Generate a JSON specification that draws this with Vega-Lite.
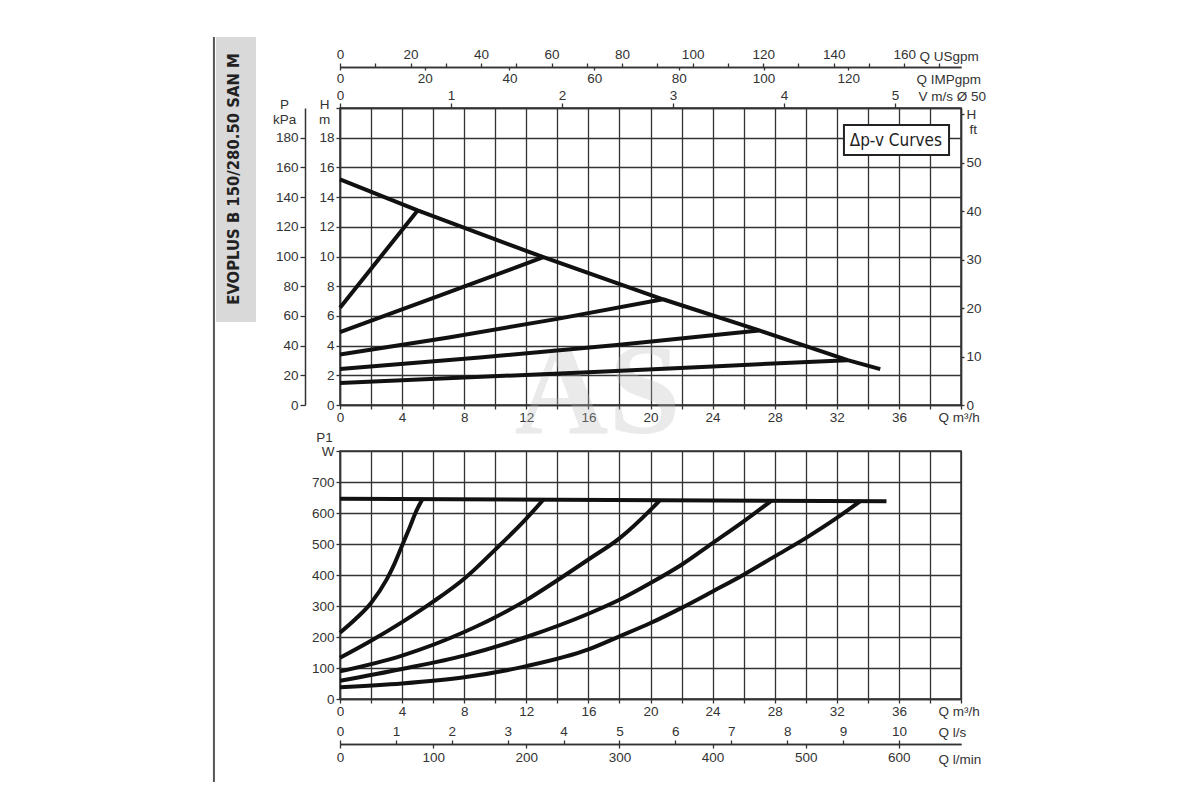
{
  "$schema": "https://vega.github.io/schema/vega-lite/v6.json",
  "padding": {"left": 212, "top": 35, "right": 5, "bottom": 5},
  "background": "white",
  "bounds": "flush",
  "spacing": 46,
  "config": {
    "view": {"stroke": "#333", "strokeWidth": 1.5},
    "axis": {
      "labelFont": "Liberation Sans", "labelFontSize": 13.5, "labelColor": "#333",
      "titleFont": "Liberation Sans", "titleFontSize": 13.5, "titleFontWeight": "normal", "titleColor": "#333",
      "domainColor": "#333", "domainWidth": 1.5, "tickColor": "#333", "tickWidth": 1.3,
      "gridColor": "#333", "gridOpacity": 1, "gridWidth": 1.3,
      "labelFlush": false, "labelOverlap": false
    }
  },
  "datasets": {
    "head": [
      {"s": "env", "q": 0, "h": 15.2}, {"s": "env", "q": 5.0, "h": 13.1}, {"s": "env", "q": 13.1, "h": 9.95},
      {"s": "env", "q": 20.8, "h": 7.12}, {"s": "env", "q": 27.0, "h": 5.02}, {"s": "env", "q": 32.7, "h": 3.02},
      {"s": "env", "q": 34.8, "h": 2.42},
      {"s": "c1", "q": 0, "h": 6.55}, {"s": "c1", "q": 5.0, "h": 13.1},
      {"s": "c2", "q": 0, "h": 4.9}, {"s": "c2", "q": 6.5, "h": 7.4}, {"s": "c2", "q": 13.1, "h": 9.95},
      {"s": "c3", "q": 0, "h": 3.4}, {"s": "c3", "q": 7, "h": 4.55}, {"s": "c3", "q": 14, "h": 5.8}, {"s": "c3", "q": 20.8, "h": 7.12},
      {"s": "c4", "q": 0, "h": 2.42}, {"s": "c4", "q": 9, "h": 3.2}, {"s": "c4", "q": 18, "h": 4.05}, {"s": "c4", "q": 27.0, "h": 5.02},
      {"s": "c5", "q": 0, "h": 1.48}, {"s": "c5", "q": 8, "h": 1.85}, {"s": "c5", "q": 16, "h": 2.2}, {"s": "c5", "q": 24, "h": 2.6}, {"s": "c5", "q": 32.7, "h": 3.02}
    ],
    "power": [
      {"s": "max", "q": 0, "p": 646}, {"s": "max", "q": 35.2, "p": 638},
      {"s": "a", "q": 0, "p": 214}, {"s": "a", "q": 1, "p": 258}, {"s": "a", "q": 2, "p": 310}, {"s": "a", "q": 3, "p": 385},
      {"s": "a", "q": 3.5, "p": 435}, {"s": "a", "q": 4, "p": 495}, {"s": "a", "q": 4.5, "p": 555}, {"s": "a", "q": 4.9, "p": 605},
      {"s": "a", "q": 5.28, "p": 642},
      {"s": "b", "q": 0, "p": 133}, {"s": "b", "q": 2, "p": 188}, {"s": "b", "q": 4, "p": 248}, {"s": "b", "q": 6, "p": 314},
      {"s": "b", "q": 8, "p": 388}, {"s": "b", "q": 10, "p": 482}, {"s": "b", "q": 12, "p": 582}, {"s": "b", "q": 13.1, "p": 643},
      {"s": "c", "q": 0, "p": 89}, {"s": "c", "q": 4, "p": 140}, {"s": "c", "q": 8, "p": 216}, {"s": "c", "q": 12, "p": 319},
      {"s": "c", "q": 14, "p": 383}, {"s": "c", "q": 16, "p": 450}, {"s": "c", "q": 18, "p": 518}, {"s": "c", "q": 20, "p": 610},
      {"s": "c", "q": 20.6, "p": 641},
      {"s": "d", "q": 0, "p": 59}, {"s": "d", "q": 4, "p": 97}, {"s": "d", "q": 8, "p": 140}, {"s": "d", "q": 12, "p": 200},
      {"s": "d", "q": 16, "p": 275}, {"s": "d", "q": 18, "p": 320}, {"s": "d", "q": 20, "p": 374}, {"s": "d", "q": 22, "p": 433},
      {"s": "d", "q": 24, "p": 503}, {"s": "d", "q": 26, "p": 573}, {"s": "d", "q": 27.8, "p": 640},
      {"s": "e", "q": 0, "p": 38}, {"s": "e", "q": 4, "p": 50}, {"s": "e", "q": 8, "p": 70}, {"s": "e", "q": 12, "p": 106},
      {"s": "e", "q": 16, "p": 160}, {"s": "e", "q": 18, "p": 202}, {"s": "e", "q": 20, "p": 245}, {"s": "e", "q": 22, "p": 294},
      {"s": "e", "q": 24, "p": 347}, {"s": "e", "q": 26, "p": 401}, {"s": "e", "q": 28, "p": 460}, {"s": "e", "q": 30, "p": 519},
      {"s": "e", "q": 32, "p": 584}, {"s": "e", "q": 33.5, "p": 638}
    ]
  },
  "vconcat": [
    {
      "width": 621,
      "height": 297,
      "layer": [
        {
          "data": {"values": [{}]},
          "mark": {"type": "text", "text": "AS", "font": "Liberation Serif", "fontSize": 130, "fontWeight": "bold", "color": "#bbbbbb", "opacity": 0.3, "align": "center", "baseline": "middle"},
          "encoding": {
            "x": {"datum": 16.6, "type": "quantitative", "scale": {"domain": [0, 40], "nice": false}, "axis": null},
            "y": {"datum": 0.74, "type": "quantitative", "scale": {"domain": [0, 20], "nice": false}, "axis": null}
          }
        },
        {
          "data": {"values": [{}]},
          "mark": {"type": "rect", "fill": "#d9d9d9"},
          "encoding": {
            "x": {"datum": -7.99, "type": "quantitative", "scale": {"domain": [0, 40], "nice": false}, "axis": null},
            "x2": {"datum": -5.41},
            "y": {"datum": 24.78, "type": "quantitative", "scale": {"domain": [0, 20], "nice": false}, "axis": null},
            "y2": {"datum": 5.59}
          }
        },
        {
          "data": {"values": [{}]},
          "mark": {"type": "rule", "stroke": "#555", "strokeWidth": 2},
          "encoding": {
            "x": {"datum": -8.12, "type": "quantitative", "scale": {"domain": [0, 40], "nice": false}, "axis": null},
            "y": {"datum": 24.78, "type": "quantitative", "scale": {"domain": [0, 20], "nice": false}, "axis": null},
            "y2": {"datum": -25.39}
          }
        },
        {
          "data": {"values": [{}]},
          "mark": {"type": "text", "text": "EVOPLUS B 150/280.50 SAN M", "angle": 270, "font": "Liberation Sans Narrow, DejaVu Sans Condensed, sans-serif", "fontSize": 16.5, "fontWeight": "bold", "color": "#222", "align": "center", "baseline": "middle"},
          "encoding": {
            "x": {"datum": -6.83, "type": "quantitative", "scale": {"domain": [0, 40], "nice": false}, "axis": null},
            "y": {"datum": 15.22, "type": "quantitative", "scale": {"domain": [0, 20], "nice": false}, "axis": null}
          }
        },
        {
          "data": {"name": "head"},
          "mark": {"type": "line", "stroke": "#111", "strokeWidth": 4, "strokeCap": "butt", "strokeJoin": "round"},
          "encoding": {
            "x": {
              "field": "q", "type": "quantitative", "scale": {"domain": [0, 40], "nice": false},
              "axis": {
                "orient": "bottom", "values": [0, 2, 4, 6, 8, 10, 12, 14, 16, 18, 20, 22, 24, 26, 28, 30, 32, 34, 36, 38, 40],
                "labelExpr": "datum.value % 4 == 0 && datum.value < 40 ? datum.label : ''",
                "grid": true, "tickSize": 4, "labelPadding": 1,
                "title": "Q m³/h", "titleX": 598, "titleY": 5, "titleAlign": "left", "titleBaseline": "top"
              }
            },
            "y": {
              "field": "h", "type": "quantitative", "scale": {"domain": [0, 20], "nice": false},
              "axis": {
                "orient": "left", "values": [0, 2, 4, 6, 8, 10, 12, 14, 16, 18, 20],
                "labelExpr": "datum.value < 20 ? datum.label : ''",
                "grid": true, "tickSize": 4, "labelPadding": 2,
                "title": ["H", "m"], "titleAngle": 0, "titleX": -16, "titleY": -11, "titleAlign": "center", "titleBaseline": "top", "titleLineHeight": 15
              }
            },
            "detail": {"field": "s", "type": "nominal"}
          }
        },
        {
          "data": {"values": [{}]},
          "mark": {"type": "rect", "fill": "white", "stroke": "#222", "strokeWidth": 2},
          "encoding": {
            "x": {"datum": 32.46, "type": "quantitative", "scale": {"domain": [0, 40], "nice": false}, "axis": null},
            "x2": {"datum": 39.23},
            "y": {"datum": 18.86, "type": "quantitative", "scale": {"domain": [0, 20], "nice": false}, "axis": null},
            "y2": {"datum": 16.84}
          }
        },
        {
          "data": {"values": [{}]},
          "mark": {"type": "text", "text": "Δp-v Curves", "font": "Liberation Sans Narrow, DejaVu Sans Condensed, sans-serif", "fontSize": 17, "color": "#222", "align": "center", "baseline": "middle"},
          "encoding": {
            "x": {"datum": 35.8, "type": "quantitative", "scale": {"domain": [0, 40], "nice": false}, "axis": null},
            "y": {"datum": 17.8, "type": "quantitative", "scale": {"domain": [0, 20], "nice": false}, "axis": null}
          }
        },
        {
          "data": {"values": [{}]},
          "mark": {"type": "point", "opacity": 0},
          "encoding": {
            "x": {"datum": 0, "type": "quantitative", "scale": {"domain": [0, 40], "nice": false}, "axis": null},
            "y": {
              "datum": 0, "type": "quantitative", "scale": {"domain": [0, 200], "nice": false},
              "axis": {
                "orient": "left", "offset": 35, "values": [0, 20, 40, 60, 80, 100, 120, 140, 160, 180],
                "grid": false, "tickSize": 5, "labelPadding": 2,
                "title": ["P", "kPa"], "titleAngle": 0, "titleX": -21, "titleY": -11, "titleAlign": "center", "titleBaseline": "top", "titleLineHeight": 15
              }
            }
          }
        },
        {
          "data": {"values": [{}]},
          "mark": {"type": "point", "opacity": 0},
          "encoding": {
            "x": {"datum": 0, "type": "quantitative", "scale": {"domain": [0, 40], "nice": false}, "axis": null},
            "y": {
              "datum": 0, "type": "quantitative", "scale": {"domain": [0, 61.3], "nice": false},
              "axis": {
                "orient": "right", "values": [0, 10, 20, 30, 40, 50, 60],
                "labelExpr": "datum.value == 60 ? 'H' : datum.label",
                "grid": false, "tickSize": 3, "labelPadding": 2,
                "title": "ft", "titleAngle": 0, "titleX": 8, "titleY": 21, "titleAlign": "left", "titleBaseline": "middle"
              }
            }
          }
        },
        {
          "data": {"values": [{}]},
          "mark": {"type": "point", "opacity": 0},
          "encoding": {
            "x": {
              "datum": 0, "type": "quantitative", "scale": {"domain": [0, 5.595], "nice": false},
              "axis": {
                "orient": "top", "values": [0, 1, 2, 3, 4, 5], "grid": false, "tickSize": 5, "labelPadding": 1,
                "title": "V m/s Ø 50", "titleX": 578, "titleY": -12, "titleAlign": "left", "titleBaseline": "middle"
              }
            },
            "y": {"datum": 0, "type": "quantitative", "scale": {"domain": [0, 20], "nice": false}, "axis": null}
          }
        },
        {
          "data": {"values": [{}]},
          "mark": {"type": "point", "opacity": 0},
          "encoding": {
            "x": {
              "datum": 0, "type": "quantitative", "scale": {"domain": [0, 176.1], "nice": false},
              "axis": {
                "orient": "top", "offset": 41,
                "values": [0, 10, 20, 30, 40, 50, 60, 70, 80, 90, 100, 110, 120, 130, 140, 150, 160, 170],
                "labelExpr": "datum.value % 20 == 0 ? datum.label : ''",
                "grid": false, "tickSize": 4, "labelPadding": 2,
                "title": "Q USgpm", "titleX": 579, "titleY": -11, "titleAlign": "left", "titleBaseline": "middle"
              }
            },
            "y": {"datum": 0, "type": "quantitative", "scale": {"domain": [0, 20], "nice": false}, "axis": null}
          }
        },
        {
          "data": {"values": [{}]},
          "mark": {"type": "point", "opacity": 0},
          "encoding": {
            "x": {
              "datum": 0, "type": "quantitative", "scale": {"domain": [0, 146.6], "nice": false},
              "axis": {
                "orient": "bottom", "offset": -338, "values": [0, 20, 40, 60, 80, 100, 120],
                "grid": false, "tickSize": 3, "labelPadding": 1,
                "title": "Q IMPgpm", "titleX": 576, "titleY": 12, "titleAlign": "left", "titleBaseline": "middle"
              }
            },
            "y": {"datum": 0, "type": "quantitative", "scale": {"domain": [0, 20], "nice": false}, "axis": null}
          }
        }
      ],
      "resolve": {"scale": {"x": "independent", "y": "independent"}}
    },
    {
      "width": 621,
      "height": 248,
      "layer": [
        {
          "data": {"name": "power"},
          "mark": {"type": "line", "stroke": "#111", "strokeWidth": 4, "strokeCap": "butt", "strokeJoin": "round", "interpolate": "monotone"},
          "encoding": {
            "x": {
              "field": "q", "type": "quantitative", "scale": {"domain": [0, 40], "nice": false},
              "axis": {
                "orient": "bottom", "values": [0, 2, 4, 6, 8, 10, 12, 14, 16, 18, 20, 22, 24, 26, 28, 30, 32, 34, 36, 38, 40],
                "labelExpr": "datum.value % 4 == 0 && datum.value < 40 ? datum.label : ''",
                "grid": true, "tickSize": 4, "labelPadding": 1,
                "title": "Q m³/h", "titleX": 598, "titleY": 5, "titleAlign": "left", "titleBaseline": "top"
              }
            },
            "y": {
              "field": "p", "type": "quantitative", "scale": {"domain": [0, 800], "nice": false},
              "axis": {
                "orient": "left", "values": [0, 100, 200, 300, 400, 500, 600, 700, 800],
                "labelExpr": "datum.value == 800 ? 'W' : datum.label",
                "grid": true, "tickSize": 4, "labelPadding": 2,
                "title": "P1", "titleAngle": 0, "titleX": -16, "titleY": -14, "titleAlign": "center", "titleBaseline": "middle"
              }
            },
            "detail": {"field": "s", "type": "nominal"}
          }
        },
        {
          "data": {"values": [{}]},
          "mark": {"type": "point", "opacity": 0},
          "encoding": {
            "x": {
              "datum": 0, "type": "quantitative", "scale": {"domain": [0, 11.11], "nice": false},
              "axis": {
                "orient": "top", "offset": -293, "values": [0, 1, 2, 3, 4, 5, 6, 7, 8, 9, 10],
                "grid": false, "tickSize": 4, "labelPadding": 2,
                "title": "Q l/s", "titleX": 598, "titleY": -12, "titleAlign": "left", "titleBaseline": "middle"
              }
            },
            "y": {"datum": 0, "type": "quantitative", "scale": {"domain": [0, 800], "nice": false}, "axis": null}
          }
        },
        {
          "data": {"values": [{}]},
          "mark": {"type": "point", "opacity": 0},
          "encoding": {
            "x": {
              "datum": 0, "type": "quantitative", "scale": {"domain": [0, 666.7], "nice": false},
              "axis": {
                "orient": "bottom", "offset": 45, "values": [0, 100, 200, 300, 400, 500, 600],
                "grid": false, "tickSize": 4, "labelPadding": 2,
                "title": "Q l/min", "titleX": 598, "titleY": 15, "titleAlign": "left", "titleBaseline": "middle"
              }
            },
            "y": {"datum": 0, "type": "quantitative", "scale": {"domain": [0, 800], "nice": false}, "axis": null}
          }
        }
      ],
      "resolve": {"scale": {"x": "independent", "y": "independent"}}
    }
  ]
}
